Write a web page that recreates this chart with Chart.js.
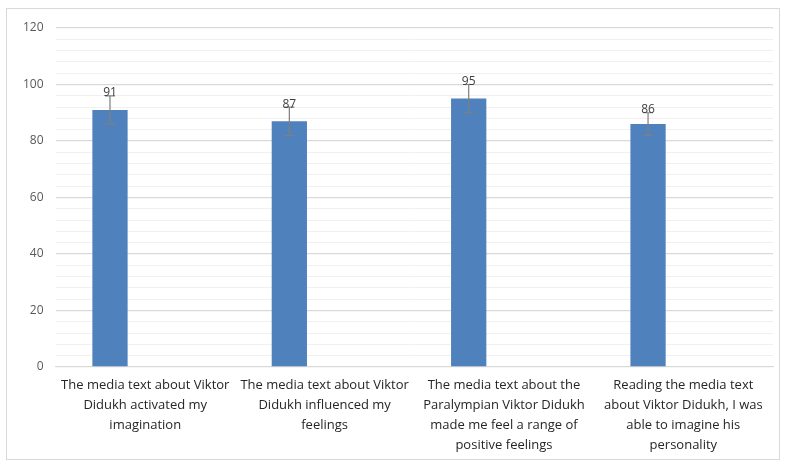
<!DOCTYPE html>
<html>
<head>
<meta charset="utf-8">
<script src="https://cdn.jsdelivr.net/npm/chart.js@4/dist/chart.umd.min.js"></script>
<style>
  html, body { margin: 0; padding: 0; background: #fff; }
  #wrap { width: 785px; height: 463px; position: relative; }
</style>
</head>
<body>
<div id="wrap"><canvas id="chart"></canvas></div>
<script>
// categories (x-axis labels, already split into lines as in the picture)
const categories = [
  ["The media text about Viktor", "Didukh activated my", "imagination"],
  ["The media text about Viktor", "Didukh influenced my", "feelings"],
  ["The media text about the", "Paralympian Viktor Didukh", "made me feel a range of", "positive feelings"],
  ["Reading the media text", "about Viktor Didukh, I was", "able to imagine his", "personality"]
];
const scores = [91, 87, 95, 86];
const errors = [5, 5, 5, 4];
const emptySeries = [null, null, null, null];

const errorBars = {
  id: "errorBars",
  afterDatasetsDraw(chart) {
    const ctx = chart.ctx;
    const meta = chart.getDatasetMeta(0);
    const y = chart.scales.y;
    ctx.save();
    meta.data.forEach((bar, i) => {
      const top = y.getPixelForValue(scores[i] + errors[i]);
      const bot = y.getPixelForValue(scores[i] - errors[i]);
      ctx.strokeStyle = "#7f7f7f";
      ctx.lineWidth = 1.2;
      ctx.beginPath();
      ctx.moveTo(bar.x, top); ctx.lineTo(bar.x, bot);
      ctx.moveTo(bar.x - 5, top); ctx.lineTo(bar.x + 5, top);
      ctx.moveTo(bar.x - 5, bot); ctx.lineTo(bar.x + 5, bot);
      ctx.stroke();
      ctx.fillStyle = "#404040";
      ctx.font = "12px 'Open Sans'";
      ctx.textAlign = "center";
      ctx.textBaseline = "bottom";
      ctx.fillText(String(scores[i]), bar.x, top + 3);
    });
    ctx.restore();
  }
};

const frame = {
  id: "frame",
  afterDraw(chart) {
    const ctx = chart.ctx;
    ctx.save();
    ctx.strokeStyle = "#d9d9d9";
    ctx.lineWidth = 1;
    ctx.strokeRect(6.5, 8.5, 773, 451);
    ctx.restore();
  }
};

new Chart(document.getElementById("chart").getContext("2d"), {
  type: "bar",
  data: {
    labels: categories,
    datasets: [
      { label: "Scores", data: scores, backgroundColor: "#4f81bd", borderWidth: 0 },
      { label: "", data: emptySeries, backgroundColor: "#c0504d" },
      { label: "", data: emptySeries, backgroundColor: "#9bbb59" }
    ]
  },
  options: {
    responsive: true,
    maintainAspectRatio: false,
    animation: false,
    layout: { padding: { left: 11, right: 12, top: 28, bottom: 0 } },
    datasets: { bar: { categoryPercentage: 0.59, barPercentage: 1 } },
    plugins: { legend: { display: false }, tooltip: { enabled: false } },
    scales: {
      x: {
        grid: { display: false, drawTicks: false },
        border: { color: "#d9d9d9" },
        ticks: {
          maxRotation: 0, minRotation: 0, autoSkip: false,
          color: "#262626", padding: 8,
          font: { family: "'Open Sans'", size: 13, lineHeight: 1.54 }
        }
      },
      y: {
        min: 0, max: 120,
        border: { display: false },
        grid: {
          drawTicks: false,
          color: c => (c.tick && c.tick.value % 20 === 0) ? "#d9d9d9" : "#f0f0f0",
          lineWidth: c => (c.tick && c.tick.value % 20 === 0) ? 1.3 : 1
        },
        ticks: {
          stepSize: 4, autoSkip: false, padding: 12,
          color: "#595959",
          font: { family: "'Open Sans'", size: 12 },
          callback: v => (v % 20 === 0 ? v : "")
        }
      }
    }
  },
  plugins: [errorBars, frame]
});
</script>
</body>
</html>
